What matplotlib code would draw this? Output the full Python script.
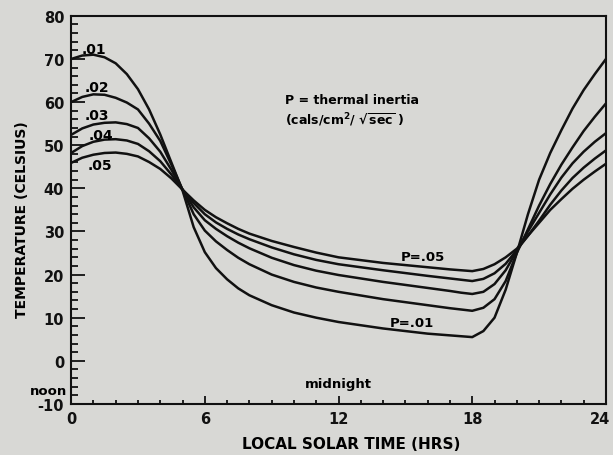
import numpy as np
import matplotlib
matplotlib.use('Agg')
import matplotlib.pyplot as plt
import matplotlib.transforms as mtransforms

# local solar time (hrs) at which the curves were read
hours = [0, 0.5, 1, 1.5, 2, 2.5, 3, 3.5, 4, 4.5, 5, 5.5, 6, 6.5, 7, 7.5, 8, 9, 10, 11, 12,
         14, 16, 17, 17.5, 18, 18.5, 19, 19.5, 20, 20.5, 21, 21.5, 22, 22.5, 23, 23.5, 24]

# surface temperature (celsius) for each thermal inertia P
temp_p01 = [70.0, 70.8, 71.0, 70.4, 69.0, 66.5, 63.0, 58.3, 52.5, 46.0, 39.5, 31.0, 25.2,
            21.5, 18.9, 16.8, 15.2, 12.9, 11.2, 10.0, 9.0, 7.5, 6.3, 5.9, 5.7, 5.5,
            6.9, 10.0, 16.5, 25.0, 34.0, 42.0, 48.2, 53.5, 58.5, 62.8, 66.5, 70.0]
temp_p02 = [60.0, 61.2, 61.8, 61.7, 61.0, 59.9, 58.3, 55.0, 51.0, 45.5, 39.7, 34.0, 30.2,
            27.7, 25.7, 23.9, 22.4, 20.0, 18.3, 17.0, 16.0, 14.3, 12.9, 12.2, 11.9, 11.6,
            12.3, 14.3, 18.5, 25.0, 30.5, 36.0, 41.0, 45.5, 49.5, 53.3, 56.6, 59.7]
temp_p03 = [52.4, 53.9, 54.8, 55.2, 55.3, 54.9, 54.0, 51.6, 48.5, 44.3, 39.7, 35.6, 32.6,
            30.6, 28.9, 27.4, 26.1, 23.9, 22.2, 20.9, 19.9, 18.3, 16.9, 16.2, 15.8, 15.5,
            16.0, 17.8, 21.0, 25.5, 30.0, 34.3, 38.6, 42.5, 45.8, 48.5, 50.8, 52.8]
temp_p04 = [48.2, 49.8, 50.8, 51.3, 51.4, 51.1, 50.3, 48.6, 46.3, 43.2, 39.7, 36.6, 34.0,
            32.1, 30.6, 29.3, 28.2, 26.3, 24.7, 23.4, 22.4, 21.0, 19.7, 19.1, 18.8, 18.5,
            19.0, 20.3, 22.5, 25.7, 29.0, 32.5, 36.2, 39.5, 42.4, 44.8, 46.9, 48.8]
temp_p05 = [45.9, 47.1, 47.8, 48.2, 48.3, 48.0, 47.4, 46.1, 44.5, 42.3, 39.7, 37.2, 35.0,
            33.3, 31.9, 30.6, 29.5, 27.8, 26.4, 25.1, 24.0, 22.7, 21.7, 21.2, 21.0, 20.8,
            21.3, 22.4, 24.0, 26.0, 29.0, 32.0, 35.0, 37.5, 39.9, 42.0, 43.9, 45.7]

curve_labels = ['.01', '.02', '.03', '.04', '.05']
label_x = [1.03, 1.17, 1.17, 1.35, 1.3]
label_y = [72.3, 63.5, 57.0, 52.4, 45.3]

x_ticks = [0, 6, 12, 18, 24]
y_ticks = [-10, 0, 10, 20, 30, 40, 50, 60, 70, 80]

bg = '#d8d8d5'
plt.rcParams['font.family'] = 'DejaVu Sans'
plt.rcParams['font.weight'] = 'bold'

fig = plt.figure(figsize=(6.13, 4.56), dpi=100, facecolor=bg)
ax = fig.add_axes([0.116, 0.112, 0.8725, 0.851])
ax.set_facecolor(bg)

for t in [temp_p01, temp_p02, temp_p03, temp_p04, temp_p05]:
    ax.plot(hours, t, color='#111111', lw=1.8, solid_capstyle='round', solid_joinstyle='round')

ax.set_xlim(0, 24)
ax.set_ylim(-10, 80)

ax.set_xticks(x_ticks)
ax.set_xticks(np.arange(0, 25, 1), minor=True)
ax.set_yticks(y_ticks)
ax.set_yticklabels([str(v) if v >= 0 else '-' + str(-v) for v in y_ticks])
ax.set_yticks(np.arange(-10, 81, 2), minor=True)

ax.tick_params(axis='both', which='both', direction='in', width=1.3, color='#111111',
               labelsize=10.5, labelcolor='#111111')
ax.tick_params(axis='y', which='major', length=10, pad=5)
ax.tick_params(axis='y', which='minor', length=5)
ax.tick_params(axis='x', which='major', length=6, pad=5)
ax.tick_params(axis='x', which='minor', length=3)
for lab in ax.get_xticklabels() + ax.get_yticklabels():
    lab.set_fontweight('bold')
# last x label sits on the right edge, nudge it in a little
last = ax.get_xticklabels()[-1]
last.set_transform(last.get_transform() + mtransforms.ScaledTranslation(-6 / 100, 0, fig.dpi_scale_trans))
for s in ax.spines.values():
    s.set_linewidth(1.5)
    s.set_color('#111111')

# curve labels
for lab, lx, ly in zip(curve_labels, label_x, label_y):
    ax.text(lx, ly, lab, ha='center', va='center', fontsize=10, fontweight='bold')

ax.text(9.6, 60.5, 'P = thermal inertia', ha='left', va='center', fontsize=9, fontweight='bold')
ax.text(9.6, 55.9, r'(cals/cm$^2$/ $\sqrt{\mathrm{sec}}$ )', ha='left', va='center',
        fontsize=9, fontweight='bold')
ax.text(15.8, 24.2, 'P=.05', ha='center', va='center', fontsize=9.5, fontweight='bold')
ax.text(15.3, 8.8, 'P=.01', ha='center', va='center', fontsize=9.5, fontweight='bold')
ax.text(12.0, -5.3, 'midnight', ha='center', va='center', fontsize=9.5, fontweight='bold')
ax.text(-0.2, -7.0, 'noon', ha='right', va='center', fontsize=9.5, fontweight='bold',
        clip_on=False)

fig.text(351 / 613, 1 - 445 / 456, 'LOCAL SOLAR TIME (HRS)', ha='center', va='center',
         fontsize=11, fontweight='bold')
fig.text(22 / 613, 1 - 220 / 456, 'TEMPERATURE (CELSIUS)', ha='center', va='center',
         rotation=90, fontsize=10, fontweight='bold')

fig.savefig('out.png', dpi=100, facecolor=bg)
